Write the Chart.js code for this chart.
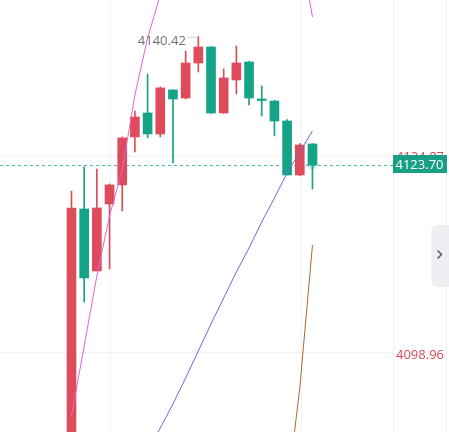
<!DOCTYPE html>
<html>
<head>
<meta charset="utf-8">
<script src="https://cdn.jsdelivr.net/npm/chart.js@4/dist/chart.umd.min.js"></script>
<style>
  html, body { margin: 0; padding: 0; background: #ffffff; }
  #wrap { width: 449px; height: 432px; position: relative; }
</style>
</head>
<body>
<div id="wrap"><canvas id="c" width="449" height="432"></canvas></div>
<script>
// ---- data ----
const opens  = [4080.00, 4117.97, 4109.90, 4118.62, 4121.10, 4127.35, 4130.47, 4127.74, 4133.47, 4132.42,
                4136.98, 4139.06, 4130.47, 4134.77, 4137.11, 4132.16, 4132.03, 4129.43, 4122.40, 4126.43];
const highs  = [4120.31, 4123.44, 4123.18, 4121.23, 4127.35, 4130.73, 4135.55, 4133.86, 4133.47, 4138.54,
                4140.42, 4139.10, 4136.20, 4139.19, 4137.20, 4133.99, 4132.10, 4129.60, 4126.50, 4126.50];
const lows   = [4078.00, 4105.86, 4109.90, 4110.16, 4117.71, 4125.39, 4127.22, 4127.35, 4123.96, 4132.30,
                4135.81, 4130.40, 4130.40, 4132.94, 4131.51, 4130.08, 4127.48, 4122.40, 4122.30, 4120.57];
const closes = [4118.10, 4108.99, 4118.10, 4121.10, 4127.22, 4129.95, 4127.74, 4133.73, 4132.29, 4136.98,
                4139.06, 4130.47, 4135.03, 4136.98, 4132.42, 4132.10, 4129.43, 4122.40, 4126.30, 4123.70];
const maPink  = [4091.02, 4100.13, 4109.25, 4117.06, 4123.05, 4132.81, 4140.24, 4145.84, 4152.00, 4155.00,
                 4157.00, 4158.00, 4158.00, 4158.00, 4158.00, 4157.00, 4156.00, 4154.00, 4152.35, 4142.97];
const maBlue  = [null, null, null, null, null, null, 4086.46, 4089.46, 4092.58, 4095.97,
                 4099.48, 4103.00, 4106.38, 4109.77, 4112.89, 4116.28, 4119.40, 4122.66, 4125.39, 4128.13];
const maBrown = [null, null, null, null, null, null, null, null, null, null,
                 null, null, null, null, null, null, null, 4080.86, 4094.66, 4113.28];
const lastPrice = 4123.70;
const hiddenPrice = 4124.87;
const lowMarker = 4098.96;
const highMarker = 4140.42;
const highIndex = 10;
const yGrid = [4099.22, 4124.74];
const xGrid = [3.04, 18.1];

const RED = '#de4b5b';
const GREEN = '#14a386';
const isUp = i => closes[i] >= opens[i];
const colorOf = ctx => (isUp(ctx.dataIndex) ? RED : GREEN);

const idx = closes.map((_, i) => i);

const overlay = {
  id: 'overlay',
  beforeDatasetsDraw(chart) {
    const { ctx, chartArea, scales } = chart;
    const y = Math.round(scales.y.getPixelForValue(lastPrice)) + 0.5;
    ctx.save();
    ctx.strokeStyle = '#46b9a3';
    ctx.lineWidth = 1;
    ctx.setLineDash([3, 3]);
    ctx.beginPath();
    ctx.moveTo(chartArea.left, y);
    ctx.lineTo(chartArea.right, y);
    ctx.stroke();
    ctx.restore();
  },
  afterDatasetsDraw(chart) {
    const { ctx, scales } = chart;
    // soft glow at the live price on the last candle
    const x = scales.x.getPixelForValue(closes.length - 1);
    const y = scales.y.getPixelForValue(lastPrice);
    const g = ctx.createRadialGradient(x, y, 0, x, y, 6);
    g.addColorStop(0, 'rgba(20,163,134,0.55)');
    g.addColorStop(1, 'rgba(20,163,134,0)');
    ctx.save();
    ctx.fillStyle = g;
    ctx.beginPath();
    ctx.arc(x, y, 6, 0, Math.PI * 2);
    ctx.fill();
    ctx.restore();
  },
  afterDraw(chart) {
    const { ctx, chartArea, scales } = chart;
    const W = chart.width;
    ctx.save();
    // right axis separators
    ctx.strokeStyle = '#eef0f3';
    ctx.lineWidth = 1;
    ctx.beginPath();
    ctx.moveTo(chartArea.right + 0.5, 0); ctx.lineTo(chartArea.right + 0.5, chart.height);
    ctx.moveTo(446.5, 0); ctx.lineTo(446.5, chart.height);
    ctx.stroke();

    ctx.font = '13px "Open Sans", "Noto Sans", sans-serif';
    ctx.textBaseline = 'middle';
    ctx.textAlign = 'left';
    // hidden label behind the price box
    ctx.fillStyle = '#d64a5c';
    ctx.fillText(hiddenPrice.toFixed(2), 396, scales.y.getPixelForValue(hiddenPrice) + 1);
    // low marker label
    ctx.fillText(lowMarker.toFixed(2), 396, scales.y.getPixelForValue(lowMarker));
    // current price box
    const yp = scales.y.getPixelForValue(lastPrice);
    ctx.fillStyle = '#18a085';
    ctx.fillRect(chartArea.right, Math.round(yp) - 10, 54, 18);
    ctx.fillStyle = '#ffffff';
    ctx.fillText(lastPrice.toFixed(2), 395.5, yp);

    // high marker
    const hx = scales.x.getPixelForValue(highIndex);
    const hy = scales.y.getPixelForValue(highMarker);
    ctx.fillStyle = '#707070';
    ctx.textAlign = 'right';
    ctx.fillText(highMarker.toFixed(2), hx - 12.5, hy + 4.5);
    ctx.strokeStyle = '#8a8a8a';
    ctx.setLineDash([1, 2]);
    ctx.beginPath();
    ctx.moveTo(hx - 10, Math.round(hy) + 0.5);
    ctx.lineTo(hx - 1, Math.round(hy) + 0.5);
    ctx.stroke();
    ctx.setLineDash([]);

    // right tab with chevron
    ctx.fillStyle = '#eeeff2';
    ctx.beginPath();
    ctx.moveTo(W, 225);
    ctx.lineTo(437, 225);
    ctx.quadraticCurveTo(431, 226, 431, 233);
    ctx.lineTo(431, 279);
    ctx.quadraticCurveTo(431, 286, 437, 287);
    ctx.lineTo(W, 287);
    ctx.closePath();
    ctx.fill();
    ctx.strokeStyle = '#5a5a5a';
    ctx.lineWidth = 1.5;
    ctx.beginPath();
    ctx.moveTo(437.5, 250.5);
    ctx.lineTo(441.5, 254.5);
    ctx.lineTo(437.5, 258.5);
    ctx.stroke();
    ctx.restore();
  }
};

new Chart(document.getElementById('c'), {
  type: 'bar',
  data: {
    datasets: [
      {
        type: 'line', label: 'pink', data: idx.map(i => ({ x: i, y: maPink[i] })),
        borderColor: '#dd66cc', borderWidth: 1, pointRadius: 0, tension: 0, order: 0
      },
      {
        type: 'line', label: 'blue', data: idx.map(i => ({ x: i, y: maBlue[i] })),
        borderColor: '#5f6fd8', borderWidth: 1, pointRadius: 0, tension: 0, order: 0
      },
      {
        type: 'line', label: 'brown', data: idx.map(i => ({ x: i, y: maBrown[i] })),
        borderColor: '#a8683f', borderWidth: 1, pointRadius: 0, tension: 0, order: 0
      },
      {
        label: 'body', data: idx.map(i => ({ x: i, y: [opens[i], closes[i]] })),
        backgroundColor: colorOf, borderWidth: 0, barThickness: 9, minBarLength: 1.5,
        grouped: false, order: 1
      },
      {
        label: 'wick', data: idx.map(i => ({ x: i, y: [lows[i], highs[i]] })),
        backgroundColor: colorOf, borderWidth: 0, barThickness: 1,
        grouped: false, order: 2
      }
    ]
  },
  options: {
    responsive: false,
    devicePixelRatio: 1,
    animation: false,
    layout: { padding: { left: 0, top: 0, bottom: 0, right: 56 } },
    plugins: { legend: { display: false }, tooltip: { enabled: false } },
    scales: {
      x: {
        type: 'linear', min: -5.637, max: 25.35, offset: false,
        grid: { color: '#f1f2f5', drawTicks: false, offset: false },
        border: { display: false },
        ticks: { display: false },
        afterBuildTicks: axis => { axis.ticks = xGrid.map(v => ({ value: v })); }
      },
      y: {
        type: 'linear', min: 4088.93, max: 4145.18, beginAtZero: false,
        grid: { color: '#f1f2f5', drawTicks: false },
        border: { display: false },
        ticks: { display: false },
        afterBuildTicks: axis => { axis.ticks = yGrid.map(v => ({ value: v })); }
      }
    }
  },
  plugins: [overlay]
});
</script>
</body>
</html>
